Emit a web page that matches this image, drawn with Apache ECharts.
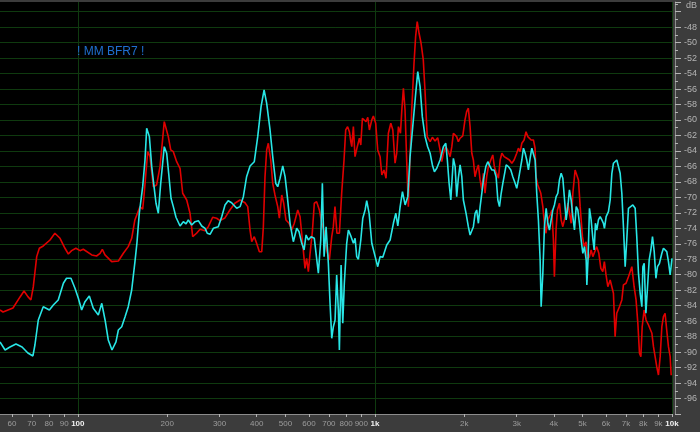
<!DOCTYPE html>
<html><head><meta charset="utf-8">
<script src="https://cdn.jsdelivr.net/npm/echarts@6/dist/echarts.min.js"></script>
<style>html,body{margin:0;padding:0;background:#3c3c3c}#c{width:700px;height:432px}</style>
</head><body><div id="c"></div>
<script>
const xTickValues = [60,70,80,90,100,200,300,400,500,600,700,800,900,1000,2000,3000,4000,5000,6000,7000,8000,9000,10000];
const xTickLabels = ['60','70','80','90','100','200','300','400','500','600','700','800','900','1k','2k','3k','4k','5k','6k','7k','8k','9k','10k'];
const xBoldLabels = ['100','1k','10k'];
const yLabelMin = -96, yLabelMax = -48;
const titleText = '! MM BFR7 !';
const unitText = 'dB';

const redData = [
[54.7,-84.56],[56.0,-84.82],[60.5,-84.30],[63.9,-82.87],[65.9,-82.10],[67.9,-82.83],[69.5,-83.26],[70.8,-81.58],[72.7,-77.66],[74.2,-76.58],
[76.5,-76.28],[80.6,-75.51],[83.7,-74.64],[87.1,-75.29],[90.5,-76.58],[92.9,-77.32],[95.3,-76.89],[98.5,-76.58],[101.7,-76.89],[104.3,-76.71],
[111.4,-77.44],[115.6,-77.58],[118.8,-77.23],[120.9,-76.71],[123.4,-77.44],[130.0,-78.31],[136.9,-78.22],[142.3,-77.23],[147.8,-76.37],[151.8,-75.29],
[155.6,-72.92],[161.9,-71.20],[165.3,-71.54],[166.9,-69.91],[171.9,-64.09],[175.0,-64.74],[179.5,-68.62],[184.1,-68.40],[189.1,-66.03],[195.4,-60.21],
[201.6,-62.15],[205.4,-63.87],[209.6,-64.09],[215.1,-65.39],[220.8,-66.24],[225.4,-69.47],[232.5,-70.34],[238.6,-72.06],[243.6,-75.08],[251.0,-74.64],
[257.9,-74.13],[267.9,-74.31],[274.9,-73.79],[284.4,-72.57],[293.3,-72.70],[301,-73.01],[312.7,-72.66],[325,-71.63],[337.6,-70.76],[351.6,-70.34],
[365.3,-70.69],[373.1,-71.20],[379.9,-74.22],[384.9,-75.73],[392.6,-75.08],[399.7,-75.94],[408.4,-77.02],[416.0,-77.02],[421.2,-73.79],[426.6,-67.33],
[432.2,-63.87],[437.7,-63.01],[446.0,-65.17],[452.9,-68.18],[460.9,-69.69],[470.8,-71.20],[476.8,-72.70],[485.7,-69.69],[493.2,-70.76],[501.8,-72.92],
[514.0,-73.35],[524.8,-74.22],[535.3,-73.35],[549.8,-71.63],[559.8,-72.50],[569.8,-75.51],[581.6,-79.17],[589.0,-77.88],[597.0,-79.61],[605,-77.23],
[615.8,-74.44],[625.2,-70.76],[636.5,-70.56],[650.2,-71.63],[662.3,-73.35],[675.5,-74.44],[688.1,-76.80],[702.5,-78.09],[715.6,-75.08],[724.5,-73.79],
[733.8,-71.20],[744.9,-74.64],[759.3,-74.64],[773.5,-69.26],[787.1,-65.17],[797.4,-61.29],[809.4,-60.86],[820.5,-61.51],[829.5,-62.80],[835.9,-63.45],
[846.2,-60.86],[857.1,-64.74],[872.3,-63.45],[886.7,-62.36],[896.3,-63.23],[907.5,-59.78],[921.3,-59.57],[933.1,-60.22],[946.2,-59.65],[958.2,-61.29],
[976.1,-59.99],[988.2,-59.48],[1006,-60.42],[1022,-63.87],[1041,-64.74],[1055,-67.11],[1073,-66.46],[1090,-67.53],[1110,-61.71],[1131,-60.42],
[1149,-61.29],[1169,-65.59],[1184,-64.30],[1200,-60.86],[1219,-61.71],[1232,-58.70],[1247,-55.90],[1263,-58.70],[1279,-65.17],[1296,-71.20],
[1313,-64.74],[1330,-58.70],[1354,-52.67],[1371,-49.23],[1388,-47.29],[1408,-48.79],[1430,-50.08],[1455,-52.24],[1474,-56.12],[1500,-62.15],
[1534,-62.80],[1561,-62.23],[1594,-62.71],[1627,-62.28],[1657,-63.87],[1679,-65.39],[1700,-64.30],[1731,-63.45],[1757,-63.87],[1791,-64.74],
[1815,-63.45],[1837,-61.71],[1861,-61.51],[1884,-62.15],[1909,-62.80],[1935,-62.36],[1976,-62.06],[2010,-59.99],[2036,-58.92],[2063,-58.48],
[2091,-60.86],[2119,-64.30],[2145,-65.17],[2172,-67.33],[2200,-66.46],[2230,-65.81],[2260,-67.75],[2290,-69.04],[2318,-66.89],[2348,-69.47],
[2378,-67.33],[2410,-66.03],[2455,-65.17],[2493,-64.52],[2524,-66.03],[2556,-66.68],[2605,-67.53],[2640,-65.17],[2675,-64.30],[2722,-64.74],
[2778,-64.95],[2837,-65.17],[2890,-65.59],[2941,-65.17],[3001,-64.30],[3041,-63.65],[3082,-64.09],[3123,-63.01],[3178,-62.58],[3226,-61.51],
[3270,-62.15],[3312,-61.93],[3356,-62.58],[3416,-62.58],[3460,-63.65],[3485,-67.33],[3535,-68.40],[3580,-68.18],[3618,-69.47],[3675,-71.20],
[3719,-73.35],[3767,-74.64],[3819,-72.92],[3889,-72.28],[3940,-71.63],[3989,-75.51],[4019,-80.25],[4071,-74.22],[4115,-71.63],[4180,-70.76],
[4236,-72.92],[4291,-73.79],[4343,-74.00],[4399,-72.06],[4461,-70.76],[4517,-72.06],[4577,-73.35],[4637,-69.47],[4719,-66.46],[4779,-66.24],
[4843,-67.75],[4908,-71.20],[4996,-75.08],[5061,-76.37],[5137,-75.73],[5191,-78.09],[5274,-77.66],[5344,-76.80],[5414,-77.66],[5480,-77.88],
[5579,-76.37],[5672,-77.23],[5761,-79.17],[5850,-79.61],[5921,-78.31],[5998,-80.03],[6082,-81.55],[6193,-80.68],[6275,-80.46],[6352,-82.40],
[6434,-88.01],[6516,-84.98],[6655,-84.13],[6779,-83.26],[6863,-81.32],[7003,-81.10],[7136,-80.25],[7326,-78.96],[7456,-81.55],[7569,-83.26],
[7675,-86.28],[7773,-90.15],[7857,-90.59],[7937,-86.72],[8058,-84.56],[8180,-85.85],[8335,-86.50],[8446,-86.28],[8557,-87.57],[8663,-89.30],
[8775,-89.08],[8886,-91.89],[9004,-92.96],[9124,-90.59],[9244,-86.72],[9358,-85.42],[9479,-84.98],[9599,-87.14],[9730,-89.30],[9860,-90.59],
[9937,-93.0]
];

const cyanData = [
[54.7,-88.69],[56.9,-89.73],[59.1,-89.34],[61.9,-88.95],[64.9,-89.34],[67.9,-90.12],[70.6,-90.50],[71.7,-89.08],[73.6,-85.85],[76.5,-84.13],
[80.2,-84.56],[82.7,-83.91],[85.9,-83.26],[89.4,-81.10],[91.6,-80.46],[94.8,-80.46],[97.8,-81.75],[100.4,-83.04],[103.0,-84.56],[105.7,-83.48],
[109.3,-82.75],[112.7,-84.34],[117.2,-85.20],[120.4,-83.69],[123.5,-85.85],[126.6,-88.43],[130.3,-89.73],[134.4,-88.69],[136.9,-87.14],[140.5,-86.72],
[144.2,-85.42],[147.8,-84.13],[151.8,-81.97],[155.7,-78.31],[158.1,-75.90],[161.0,-72.06],[165.3,-68.62],[168.3,-65.17],[170.5,-61.07],[174.1,-62.15],
[177.3,-66.03],[180.5,-68.62],[183.3,-70.76],[186.6,-72.06],[190.1,-68.18],[195.4,-63.45],[199.1,-64.30],[202.7,-67.33],[205.9,-70.12],[209.6,-71.20],
[214.0,-72.57],[220.8,-73.70],[226.5,-73.14],[231.3,-73.44],[235.4,-72.92],[241.7,-73.57],[248.0,-73.14],[254.5,-73.01],[261.3,-73.70],[268.1,-74.00],
[272.7,-74.64],[278.6,-74.77],[285.8,-74.00],[297.0,-73.79],[305.0,-72.50],[312.9,-70.98],[320.7,-70.43],[329.3,-70.69],[342.6,-71.41],[351.6,-71.20],
[360.7,-69.91],[369.9,-67.33],[379.9,-65.94],[392.6,-65.39],[403.2,-62.15],[413.8,-58.27],[423.6,-56.12],[432.2,-57.84],[443.6,-61.29],[452.9,-64.74],
[463.7,-68.18],[470.8,-68.62],[479.4,-67.53],[489.5,-65.94],[498.4,-67.33],[507.2,-69.91],[518,-73.35],[531.4,-75.73],[545.4,-74.00],[555.4,-74.44],
[567.2,-75.94],[577.5,-76.80],[586.5,-74.86],[597.0,-75.51],[609.7,-75.08],[625.2,-75.29],[636.5,-77.88],[645.1,-79.81],[657.2,-75.51],[665.4,-68.18],
[674.4,-77.66],[684.9,-73.79],[697.0,-78.52],[706.3,-83.69],[715.6,-88.22],[724.6,-86.72],[734.3,-85.85],[743.5,-80.03],[753.3,-84.56],[759.3,-89.73],
[769.4,-78.74],[779.4,-86.28],[788.9,-81.10],[803.6,-75.94],[814.1,-74.22],[831.4,-75.08],[846.4,-75.94],[857.7,-75.29],[868.4,-77.66],[879.7,-78.00],
[896.3,-75.51],[910.2,-72.70],[926.8,-71.63],[938.4,-70.43],[955.9,-72.06],[976.1,-75.94],[1002,-77.66],[1022,-78.96],[1041,-77.66],[1063,-77.74],
[1096,-76.15],[1125,-75.51],[1154,-73.35],[1176,-72.06],[1194,-73.70],[1216,-71.20],[1238,-69.26],[1264,-70.98],[1290,-69.91],[1313,-64.74],
[1347,-59.99],[1372,-56.54],[1394,-53.75],[1419,-55.69],[1444,-59.57],[1475,-62.15],[1505,-63.45],[1534,-64.30],[1561,-65.81],[1586,-66.68],
[1615,-66.24],[1657,-65.17],[1700,-63.45],[1732,-63.01],[1753,-65.17],[1777,-68.18],[1801,-70.34],[1815,-68.18],[1837,-64.95],[1862,-66.03],
[1885,-69.91],[1909,-67.53],[1935,-65.81],[1961,-67.33],[1985,-70.34],[2027,-72.06],[2063,-73.79],[2091,-74.86],[2119,-74.86],[2145,-73.79],
[2174,-72.06],[2201,-71.63],[2230,-73.35],[2260,-71.20],[2290,-69.47],[2319,-67.75],[2362,-66.03],[2399,-65.39],[2442,-66.03],[2474,-66.46],
[2519,-66.46],[2558,-67.33],[2593,-70.34],[2626,-71.20],[2661,-69.47],[2695,-68.18],[2729,-68.40],[2766,-65.81],[2814,-66.03],[2867,-66.46],
[2912,-67.33],[2965,-68.18],[3002,-68.83],[3041,-67.75],[3082,-66.46],[3123,-65.17],[3162,-63.65],[3204,-64.30],[3244,-65.17],[3286,-66.46],
[3330,-64.95],[3374,-63.65],[3416,-63.45],[3462,-65.17],[3505,-69.47],[3551,-72.92],[3599,-78.09],[3627,-84.13],[3675,-79.81],[3721,-73.79],
[3771,-71.41],[3819,-73.35],[3868,-74.22],[3919,-72.92],[3971,-71.63],[4021,-70.98],[4074,-69.91],[4128,-69.47],[4180,-67.75],[4236,-66.89],
[4291,-67.53],[4345,-67.53],[4403,-72.92],[4461,-71.20],[4517,-69.04],[4577,-70.34],[4637,-72.50],[4696,-74.22],[4759,-71.20],[4820,-71.63],
[4881,-73.35],[4946,-75.51],[5011,-77.23],[5074,-76.37],[5142,-78.09],[5169,-81.32],[5221,-77.66],[5274,-71.41],[5344,-72.92],[5414,-75.29],
[5471,-76.80],[5524,-73.35],[5582,-74.22],[5654,-72.92],[5730,-72.50],[5806,-72.92],[5878,-73.35],[5924,-74.00],[6003,-72.50],[6111,-71.85],
[6193,-70.34],[6275,-66.89],[6353,-65.59],[6438,-65.39],[6519,-65.17],[6603,-65.39],[6691,-66.89],[6779,-69.47],[6864,-73.79],[6956,-78.96],
[7043,-75.51],[7136,-71.41],[7231,-71.20],[7383,-70.98],[7517,-71.41],[7611,-75.08],[7712,-79.81],[7815,-82.40],[7918,-84.13],[7979,-78.96],
[8062,-78.52],[8169,-84.98],[8270,-84.98],[8380,-78.09],[8492,-76.80],[8597,-75.08],[8713,-77.02],[8829,-80.46],[8938,-78.96],[9075,-78.52],
[9244,-77.23],[9360,-76.58],[9485,-76.80],[9604,-77.02],[9730,-78.31],[9860,-80.03],[10000,-77.88]
];

function labelFor(v) {
  for (let i = 0; i < xTickValues.length; i++) {
    if (Math.abs(xTickValues[i] - v) / xTickValues[i] < 0.01) {
      const t = xTickLabels[i];
      return xBoldLabels.indexOf(t) >= 0 ? '{b|' + t + '}' : '{n|' + t + '}';
    }
  }
  return '';
}

const gridGreen = '#0f3a0f';
const chart = echarts.init(document.getElementById('c'), null, {renderer: 'canvas'});
chart.setOption({
  backgroundColor: '#3c3c3c',
  animation: false,
  grid: {left: 0, right: 28, top: 2, bottom: 18, show: true, backgroundColor: '#000', borderWidth: 0},
  xAxis: [{
    type: 'log', logBase: 10, min: 54.7, max: 10000,
    axisLine: {show: true, onZero: false, lineStyle: {color: '#8c8c8c', width: 1}},
    axisTick: {show: true, customValues: xTickValues, length: 3, lineStyle: {color: '#b4b4b4'}},
    axisLabel: {
      customValues: xTickValues, margin: 6, formatter: labelFor,
      rich: {
        b: {color: '#f2f2f2', fontWeight: 'bold', fontSize: 8, fontFamily: 'Arial'},
        n: {color: '#9c9c9c', fontSize: 8, fontFamily: 'Arial'}
      }
    },
    splitLine: {show: false}
  }, {
    type: 'log', logBase: 10, min: 54.7, max: 10000, position: 'bottom',
    axisLine: {show: false}, axisTick: {show: false}, axisLabel: {show: false},
    splitLine: {show: true, showMinLine: false, lineStyle: {color: gridGreen, width: 1}}
  }],
  yAxis: {
    type: 'value', position: 'right', offset: 3, min: -98, max: -44.75, interval: 2,
    axisLine: {show: true, lineStyle: {color: '#8c8c8c', width: 1}},
    axisTick: {show: true, length: 6, lineStyle: {color: '#b4b4b4'}},
    minorTick: {show: true, splitNumber: 2, length: 3, lineStyle: {color: '#b4b4b4'}},
    axisLabel: {
      margin: 9, color: '#b4b4b4', fontSize: 9, fontFamily: 'Arial',
      formatter: v => (v >= yLabelMin && v <= yLabelMax) ? String(v) : ''
    },
    splitLine: {show: true, showMaxLine: false, lineStyle: {color: gridGreen, width: 1}}
  },
  graphic: [
    {type: 'text', left: 77, top: 46, z: 100, style: {text: titleText, fill: '#1f6fd0', fontSize: 12, fontFamily: 'Arial'}},
    {type: 'text', left: 686, top: 1, z: 100, style: {text: unitText, fill: '#b4b4b4', fontSize: 9, fontFamily: 'Arial'}}
  ],
  series: [
    {type: 'line', data: redData, showSymbol: false, lineStyle: {color: '#e00000', width: 1.6}, z: 2},
    {type: 'line', data: cyanData, showSymbol: false, lineStyle: {color: '#28e6e6', width: 1.6}, z: 3}
  ]
});
</script>
</body></html>
